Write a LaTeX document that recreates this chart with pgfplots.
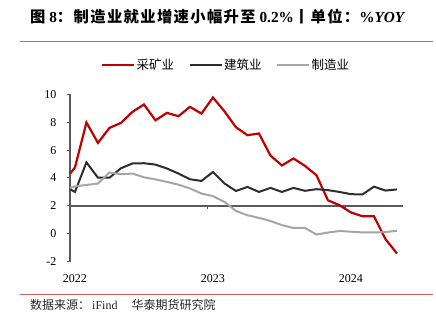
\documentclass[border=0pt]{standalone}
\usepackage{fontspec}
\setmainfont{Liberation Serif}
\newfontfamily\cjk{Noto Sans CJK SC}
\newfontfamily\cjkt[LetterSpace=9]{Noto Sans CJK SC}
\usepackage{pgfplots}
\usepackage{pgfplotstable}
\pgfplotsset{compat=1.18}
\definecolor{cred}{RGB}{192,0,0}
\definecolor{cblk}{RGB}{45,45,45}
\definecolor{cgry}{RGB}{165,165,165}
\definecolor{caxis}{RGB}{90,90,90}
\definecolor{sepred}{RGB}{205,95,95}

\pgfplotstableread{
x red blk gry
-0.43 4.30 3.20 3.30
0 4.75 3.00 3.40
1 7.98 5.12 3.50
2 6.52 4.02 3.60
3 7.59 4.02 4.40
4 7.95 4.70 4.27
5 8.74 5.04 4.32
6 9.27 5.06 4.05
7 8.14 4.96 3.90
8 8.67 4.68 3.72
9 8.43 4.32 3.52
10 9.10 3.91 3.25
11 8.62 3.79 2.89
12 9.77 4.43 2.70
13 8.78 3.61 2.29
14 7.64 3.07 1.64
15 7.07 3.36 1.33
16 7.19 3.00 1.14
17 5.61 3.29 0.92
18 4.90 3.00 0.62
19 5.40 3.29 0.42
20 4.87 3.08 0.42
21 4.20 3.20 -0.05
22 2.40 3.13 0.09
23 2.05 3.00 0.20
24 1.53 2.84 0.15
25 1.26 2.82 0.10
26 1.26 3.38 0.10
27 -0.38 3.10 0.12
28 -1.41 3.18 0.22
}\datatab

\begin{document}
\begin{tikzpicture}
\useasboundingbox (0bp,0bp) rectangle (436bp,324bp);
\begin{axis}[
  at={(70bp,62.3bp)}, anchor=south west,
  scale only axis, width=332.7bp, height=167.4bp,
  xmin=-0.43, xmax=28.5, ymin=-2, ymax=10,
  clip=false,
  axis x line*=bottom, axis y line*=left,
  x axis line style={draw=none},
  y axis line style={draw=caxis, line width=1.2bp, -},
  xtick={0,12,24}, xticklabels={2022,2023,2024},
  major x tick style={draw=none},
  xticklabel style={anchor=base, yshift=-18bp},
  ytick={-2,0,2,4,6,8,10},
  yticklabels={-2,0,2,4,6,8,10},
  tick align=outside,
  major tick length=3bp,
  major y tick style={draw=caxis, line width=1bp},
  yticklabel style={xshift=-7bp},
  ticklabel style={font=\fontsize{12bp}{14bp}\selectfont},
  legend style={at={(0.468,1.175)}, anchor=center, draw=none, fill=none,
    inner sep=0pt, font=\fontsize{12.5bp}{14bp}\selectfont\cjk,
    nodes={inner sep=1.5bp},
    /tikz/every even column/.append style={column sep=13bp}},
  legend columns=3,
  legend image code/.code={\draw[#1] (0bp,0bp) -- (32bp,0bp);},
]
\addplot[sepred, line width=1.5bp, forget plot] coordinates {(-4.778,13.77) (31.135,13.77)};
\addplot[sepred, line width=1.5bp, forget plot] coordinates {(-4.778,-4.337) (31.135,-4.337)};
\addplot[caxis, line width=1.3bp, forget plot] coordinates {(-0.43,2) (28.5,2)};
\addplot[caxis, line width=1bp, forget plot] coordinates {(11.5,2) (11.5,1.75)};
\addplot[caxis, line width=1bp, forget plot] coordinates {(23.5,2) (23.5,1.75)};
\addplot[cred, line width=2.2bp] table[x=x, y=red] {\datatab};
\addlegendentry{采矿业}
\addplot[cblk, line width=2bp] table[x=x, y=blk] {\datatab};
\addlegendentry{建筑业}
\addplot[cgry, line width=2bp] table[x=x, y=gry] {\datatab};
\addlegendentry{制造业}
\end{axis}
\node[anchor=west, inner sep=0pt, font=\fontsize{15.3bp}{18bp}\selectfont\bfseries] at (30bp,307bp)
  {{\cjkt 图} 8{\cjkt ：制造业就业增速小幅升至} 0.2\%{\cjkt 丨单位：}\%\textit{YOY}};
\node[anchor=west, inner sep=0pt, font=\fontsize{12bp}{14bp}\selectfont, text=black!85] at (30bp,19bp)
  {{\cjk 数据来源：}\,iFind\quad\,{\cjk 华泰期货研究院}};
\end{tikzpicture}
\end{document}
